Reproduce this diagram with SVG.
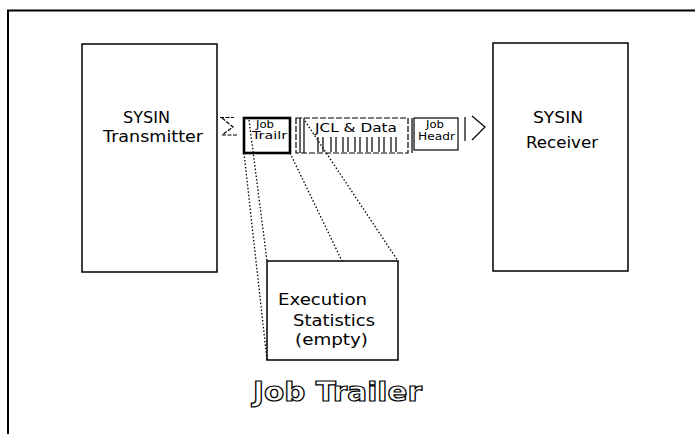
<svg xmlns="http://www.w3.org/2000/svg" width="695" height="434" viewBox="0 0 695 434">
  <style>
    .frame { fill: none; stroke: #000; stroke-width: 2; }
    .box { fill: #fff; stroke: #000; stroke-width: 1.5; }
    .rec { fill: #fff; stroke: #000; stroke-width: 1.2; }
    .rec-bold { fill: #fff; stroke: #000; stroke-width: 2.6; }
    .lbl { font-family: "DejaVu Sans", "Liberation Sans", sans-serif; font-size: 15px; fill: #000; }
    .lbl-sm { font-family: "DejaVu Sans", "Liberation Sans", sans-serif; font-size: 10px; fill: #000; }
    .lbl-md { font-family: "DejaVu Sans", "Liberation Sans", sans-serif; font-size: 12px; fill: #000; }
    .title { font-family: "DejaVu Sans", "Liberation Sans", sans-serif; font-size: 27px; font-weight: bold; fill: #fff; stroke: #000; stroke-width: 1.2; }
    .dot { fill: none; stroke: #000; stroke-width: 1.3; stroke-dasharray: 1.5 2; }
    .tick { fill: none; stroke: #000; stroke-width: 1.2; }
    .thin { fill: none; stroke: #000; stroke-width: 1.2; }
  </style>

  <rect width="695" height="434" fill="#fff"/>

  <!-- page frame, open to the right and bottom -->
  <path class="frame" d="M8 434 V10.5 H695"/>

  <!-- SYSIN transmitter -->
  <g id="transmitter">
    <rect class="box" x="82" y="44" width="135" height="228"/>
    <text class="lbl" x="123" y="123" textLength="47" lengthAdjust="spacingAndGlyphs">SYSIN</text>
    <text class="lbl" x="103" y="142" textLength="100" lengthAdjust="spacingAndGlyphs">Transmitter</text>
  </g>

  <!-- SYSIN receiver -->
  <g id="receiver">
    <rect class="box" x="493" y="43" width="135" height="228"/>
    <text class="lbl" x="533" y="123" textLength="50" lengthAdjust="spacingAndGlyphs">SYSIN</text>
    <text class="lbl" x="526" y="148" textLength="72" lengthAdjust="spacingAndGlyphs">Receiver</text>
  </g>

  <!-- JCL and data card images in the stream -->
  <g id="jcl-data">
    <rect class="rec" x="296" y="118" width="112" height="35" stroke-dasharray="6 2"/>
    <path class="tick" d="M300 118 V153 M304 118 V153
      M318 137 V152 M323 137 V152 M331 137 V152 M336 137 V152
      M343 137 V152 M348 137 V152 M355 137 V152 M360 137 V152
      M367 137 V152 M372 137 V152 M379 137 V152 M384 137 V152
      M391 137 V152 M396 137 V152 M412 118 V153"/>
    <text class="lbl-md" x="315" y="132" textLength="82" lengthAdjust="spacingAndGlyphs">JCL &amp; Data</text>
  </g>

  <!-- job header record -->
  <g id="job-header">
    <rect class="rec" x="414" y="118" width="44" height="32"/>
    <text class="lbl-sm" x="426" y="128" textLength="18" lengthAdjust="spacingAndGlyphs">Job</text>
    <text class="lbl-sm" x="418" y="140" textLength="37" lengthAdjust="spacingAndGlyphs">Headr</text>
  </g>

  <!-- job trailer record (highlighted) -->
  <g id="job-trailer">
    <rect class="rec-bold" x="244" y="118" width="46" height="35"/>
    <text class="lbl-sm" x="256" y="128" textLength="18" lengthAdjust="spacingAndGlyphs">Job</text>
    <text class="lbl-sm" x="252" y="139" textLength="35" lengthAdjust="spacingAndGlyphs">Trailr</text>
  </g>

  <!-- execution statistics blow-up -->
  <g id="exec-stats">
    <rect class="box" x="267" y="261" width="131" height="99"/>
    <text class="lbl" x="278" y="305" textLength="89" lengthAdjust="spacingAndGlyphs" style="font-size:16px">Execution</text>
    <text class="lbl" x="293" y="326" textLength="82" lengthAdjust="spacingAndGlyphs" style="font-size:16px">Statistics</text>
    <text class="lbl" x="295" y="345" textLength="73" lengthAdjust="spacingAndGlyphs" style="font-size:16px">(empty)</text>
  </g>

  <!-- connectors: stream ends and zoom lines -->
  <g id="connectors">
    <!-- stream tail at the transmitter -->
    <path class="thin" d="M220 117.5 H234 M222 118 L233 127 L222 135 M222 135 H237" stroke-dasharray="4 1.5"/>
    <!-- stream head at the receiver -->
    <path class="thin" d="M465 117 V141 M472 116 L485 127 L472 140"/>
    <!-- dotted projection lines from the trailer record to the blow-up -->
    <path class="dot" d="M244 153 L267 360"/>
    <path class="dot" d="M249 120 L267 261"/>
    <path class="dot" d="M290 153 L342 261"/>
    <path class="dot" d="M305 121 L398 261"/>
  </g>

  <text class="title" x="253" y="401" textLength="169" lengthAdjust="spacingAndGlyphs">Job Trailer</text>
</svg>
